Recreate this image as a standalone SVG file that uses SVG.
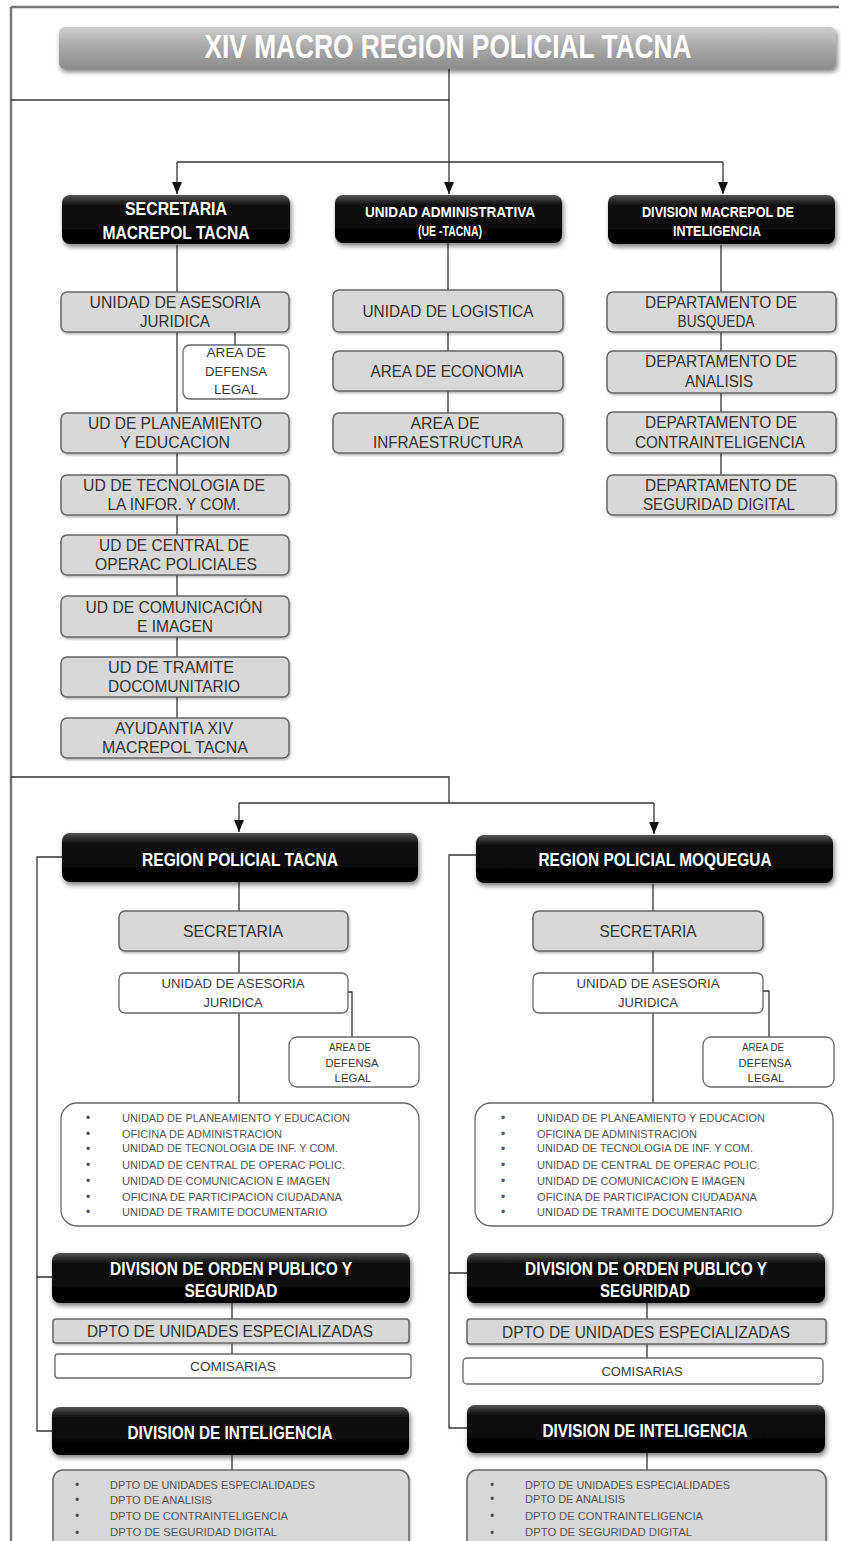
<svg xmlns="http://www.w3.org/2000/svg" width="841" height="1541" viewBox="0 0 841 1541">
<defs>
<linearGradient id="gTitle" x1="0" y1="0" x2="0" y2="1">
<stop offset="0" stop-color="#cfcfcf"/><stop offset="0.45" stop-color="#aaaaaa"/><stop offset="1" stop-color="#8c8c8c"/>
</linearGradient>
<linearGradient id="gBlack" x1="0" y1="0" x2="0" y2="1">
<stop offset="0" stop-color="#555"/><stop offset="0.2" stop-color="#111"/><stop offset="1" stop-color="#000"/>
</linearGradient>
<filter id="sh" x="-10%" y="-40%" width="120%" height="190%"><feDropShadow dx="1.5" dy="3" stdDeviation="2.5" flood-color="#000" flood-opacity="0.5"/></filter>
<filter id="sh2" x="-10%" y="-40%" width="120%" height="190%"><feDropShadow dx="1" dy="1.5" stdDeviation="1.2" flood-color="#000" flood-opacity="0.3"/></filter>
<marker id="arr" markerUnits="userSpaceOnUse" markerWidth="12" markerHeight="10" refX="12" refY="5" orient="auto"><path d="M0,0 L12,5 L0,10 z" fill="#111"/></marker>
<style>
.cn{fill:none;stroke:#333;stroke-width:1.3}
.fr{fill:none;stroke:#777;stroke-width:2.5}
.gb{fill:#d8d8d8;stroke:#666;stroke-width:1.5;filter:url(#sh2)}
.wb{fill:#fff;stroke:#666;stroke-width:1.3}
.bb{fill:url(#gBlack);filter:url(#sh)}
text{font-family:"Liberation Sans",Arial,sans-serif;text-anchor:middle}
.t{fill:#333;font-size:16.5px}
.s{fill:#3a3a3a;font-size:12.5px}
.xs{fill:#3a3a3a;font-size:10.5px}
.w{fill:#fff;font-weight:bold;font-size:19px}
.w2{fill:#fff;font-weight:bold;font-size:14.5px}
.li{fill:#555;font-size:10.5px;text-anchor:start}
.bu{fill:#555;font-size:12px}
</style>
</defs>

<g id="frame">
<path class="fr" d="M11 7 H839 M11 7 V1541"/>
</g>

<g id="connectors">
<path class="cn" d="M11 100 H449"/>
<path class="cn" d="M449 69 V194" marker-end="url(#arr)"/>
<path class="cn" d="M177 162 H723"/>
<path class="cn" d="M177 162 V194" marker-end="url(#arr)"/>
<path class="cn" d="M723 162 V194" marker-end="url(#arr)"/>
<path class="cn" d="M177 245 V720"/>
<path class="cn" d="M235 332 V345"/>
<path class="cn" d="M448 243 V414"/>
<path class="cn" d="M721 245 V476"/>
<path class="cn" d="M11 777 H449 V803"/>
<path class="cn" d="M239 803 H654"/>
<path class="cn" d="M239 803 V832" marker-end="url(#arr)"/>
<path class="cn" d="M654 803 V834" marker-end="url(#arr)"/>
<path class="cn" d="M239 882 V1104"/>
<path class="cn" d="M348 992 H352 V1037"/>
<path class="cn" d="M62 857 H37 V1431 H52 M37 1277 H52"/>
<path class="cn" d="M232 1303 V1354"/>
<path class="cn" d="M232 1455 V1470"/>
<path class="cn" d="M653 884 V1104"/>
<path class="cn" d="M763 991 H769 V1037"/>
<path class="cn" d="M476 855 H449 V1428 H467 M449 1273 H467"/>
<path class="cn" d="M647 1303 V1358"/>
<path class="cn" d="M647 1453 V1470"/>
</g>

<g id="title">
<rect x="59" y="27" width="777" height="42" rx="6" fill="url(#gTitle)" filter="url(#sh)"/>
<text x="448" y="58" fill="#fff" font-weight="bold" font-size="34" textLength="487" lengthAdjust="spacingAndGlyphs">XIV MACRO REGION POLICIAL TACNA</text>
</g>

<g id="secretaria-macrepol">
<rect class="bb" x="62" y="195" width="228" height="49" rx="8"/>
<text class="w" x="176" y="215" textLength="102" lengthAdjust="spacingAndGlyphs">SECRETARIA</text>
<text class="w" x="176" y="239" textLength="147" lengthAdjust="spacingAndGlyphs">MACREPOL TACNA</text>
</g>
<g id="unidad-administrativa">
<rect class="bb" x="335" y="195" width="227" height="48" rx="8"/>
<text class="w2" x="450" y="217" textLength="170" lengthAdjust="spacingAndGlyphs">UNIDAD ADMINISTRATIVA</text>
<text class="w2" x="450" y="236" textLength="64" lengthAdjust="spacingAndGlyphs">(UE -TACNA)</text>
</g>
<g id="division-macrepol">
<rect class="bb" x="608" y="195" width="227" height="49" rx="8"/>
<text class="w2" x="718" y="217" textLength="152" lengthAdjust="spacingAndGlyphs">DIVISION MACREPOL DE</text>
<text class="w2" x="717" y="236" textLength="88" lengthAdjust="spacingAndGlyphs">INTELIGENCIA</text>
</g>

<g id="asesoria-juridica">
<rect class="gb" x="61" y="292" width="228" height="40" rx="6"/>
<text class="t" x="175" y="308" textLength="171" lengthAdjust="spacingAndGlyphs">UNIDAD DE  ASESORIA</text>
<text class="t" x="175" y="327" textLength="70" lengthAdjust="spacingAndGlyphs">JURIDICA</text>
</g>
<g id="area-defensa-legal">
<rect class="wb" x="183" y="345" width="106" height="54" rx="7"/>
<text class="s" x="236" y="357" textLength="59" lengthAdjust="spacingAndGlyphs">AREA DE</text>
<text class="s" x="236" y="375.5" textLength="62" lengthAdjust="spacingAndGlyphs">DEFENSA</text>
<text class="s" x="236" y="394" textLength="44" lengthAdjust="spacingAndGlyphs">LEGAL</text>
</g>
<g id="ud-planeamiento">
<rect class="gb" x="61" y="413" width="228" height="40" rx="6"/>
<text class="t" x="175" y="429" textLength="174" lengthAdjust="spacingAndGlyphs">UD DE PLANEAMIENTO</text>
<text class="t" x="175" y="448" textLength="110" lengthAdjust="spacingAndGlyphs">Y EDUCACION</text>
</g>
<g id="ud-tecnologia">
<rect class="gb" x="61" y="475" width="228" height="40" rx="6"/>
<text class="t" x="174" y="491" textLength="182" lengthAdjust="spacingAndGlyphs">UD DE TECNOLOGIA DE</text>
<text class="t" x="174" y="510" textLength="133" lengthAdjust="spacingAndGlyphs">LA INFOR. Y COM.</text>
</g>
<g id="ud-central">
<rect class="gb" x="61" y="535" width="228" height="40" rx="6"/>
<text class="t" x="174" y="551" textLength="150" lengthAdjust="spacingAndGlyphs">UD DE CENTRAL DE</text>
<text class="t" x="176" y="570" textLength="162" lengthAdjust="spacingAndGlyphs">OPERAC POLICIALES</text>
</g>
<g id="ud-comunicacion">
<rect class="gb" x="61" y="596" width="228" height="41" rx="6"/>
<text class="t" x="174" y="612.5" textLength="177" lengthAdjust="spacingAndGlyphs">UD DE COMUNICACIÓN</text>
<text class="t" x="175" y="631.5" textLength="76" lengthAdjust="spacingAndGlyphs">E IMAGEN</text>
</g>
<g id="ud-tramite">
<rect class="gb" x="61" y="657" width="228" height="40" rx="6"/>
<text class="t" x="171" y="673" textLength="126" lengthAdjust="spacingAndGlyphs">UD DE TRAMITE</text>
<text class="t" x="174" y="692" textLength="132" lengthAdjust="spacingAndGlyphs">DOCOMUNITARIO</text>
</g>
<g id="ayudantia">
<rect class="gb" x="61" y="718" width="228" height="40" rx="6"/>
<text class="t" x="174" y="734" textLength="118" lengthAdjust="spacingAndGlyphs">AYUDANTIA XIV</text>
<text class="t" x="175" y="753" textLength="146" lengthAdjust="spacingAndGlyphs">MACREPOL TACNA</text>
</g>

<g id="unidad-logistica">
<rect class="gb" x="333" y="290" width="230" height="42" rx="6"/>
<text class="t" x="448" y="317" textLength="171" lengthAdjust="spacingAndGlyphs">UNIDAD DE LOGISTICA</text>
</g>
<g id="area-economia">
<rect class="gb" x="333" y="351" width="230" height="40" rx="6"/>
<text class="t" x="447" y="377" textLength="153" lengthAdjust="spacingAndGlyphs">AREA DE ECONOMIA</text>
</g>
<g id="area-infraestructura">
<rect class="gb" x="333" y="413" width="230" height="40" rx="6"/>
<text class="t" x="445" y="429" textLength="69" lengthAdjust="spacingAndGlyphs">AREA DE</text>
<text class="t" x="448" y="448" textLength="150" lengthAdjust="spacingAndGlyphs">INFRAESTRUCTURA</text>
</g>

<g id="dep-busqueda">
<rect class="gb" x="607" y="292" width="229" height="40" rx="6"/>
<text class="t" x="721" y="308" textLength="152" lengthAdjust="spacingAndGlyphs">DEPARTAMENTO DE</text>
<text class="t" x="716" y="327" textLength="77" lengthAdjust="spacingAndGlyphs">BUSQUEDA</text>
</g>
<g id="dep-analisis">
<rect class="gb" x="607" y="351" width="229" height="42" rx="6"/>
<text class="t" x="721" y="367" textLength="152" lengthAdjust="spacingAndGlyphs">DEPARTAMENTO DE</text>
<text class="t" x="719" y="387" textLength="68" lengthAdjust="spacingAndGlyphs">ANALISIS</text>
</g>
<g id="dep-contrainteligencia">
<rect class="gb" x="607" y="412" width="229" height="41" rx="6"/>
<text class="t" x="721" y="428" textLength="152" lengthAdjust="spacingAndGlyphs">DEPARTAMENTO DE</text>
<text class="t" x="720" y="447.5" textLength="170" lengthAdjust="spacingAndGlyphs">CONTRAINTELIGENCIA</text>
</g>
<g id="dep-seguridad-digital">
<rect class="gb" x="607" y="475" width="229" height="40" rx="6"/>
<text class="t" x="721" y="491" textLength="152" lengthAdjust="spacingAndGlyphs">DEPARTAMENTO DE</text>
<text class="t" x="719" y="510" textLength="152" lengthAdjust="spacingAndGlyphs">SEGURIDAD DIGITAL</text>
</g>

<g id="region-tacna">
<rect class="bb" x="62" y="833" width="356" height="49" rx="8"/>
<text class="w" x="240" y="866" textLength="196" lengthAdjust="spacingAndGlyphs">REGION POLICIAL TACNA</text>
</g>
<g id="tacna-secretaria">
<rect class="gb" x="119" y="911" width="229" height="40" rx="6"/>
<text class="t" x="233" y="937" font-size="17" textLength="100" lengthAdjust="spacingAndGlyphs">SECRETARIA</text>
</g>
<g id="tacna-asesoria">
<rect class="wb" x="119" y="973" width="229" height="40" rx="6"/>
<text class="s" x="233" y="987.5" textLength="143" lengthAdjust="spacingAndGlyphs">UNIDAD DE ASESORIA</text>
<text class="s" x="233" y="1006.5" textLength="59" lengthAdjust="spacingAndGlyphs">JURIDICA</text>
</g>
<g id="tacna-defensa">
<rect class="wb" x="289" y="1037" width="130" height="50" rx="8"/>
<text class="xs" x="350" y="1050.5" textLength="42" lengthAdjust="spacingAndGlyphs">AREA DE</text>
<text class="xs" x="352" y="1066.5" textLength="53" lengthAdjust="spacingAndGlyphs">DEFENSA</text>
<text class="xs" x="353" y="1082" textLength="37" lengthAdjust="spacingAndGlyphs">LEGAL</text>
</g>
<g id="tacna-unidades">
<rect class="wb" x="61" y="1103" width="358" height="123" rx="16"/>
<text class="bu" x="88" y="1122">•</text>
<text class="bu" x="88" y="1138">•</text>
<text class="bu" x="88" y="1152.5">•</text>
<text class="bu" x="88" y="1169">•</text>
<text class="bu" x="88" y="1185">•</text>
<text class="bu" x="88" y="1201">•</text>
<text class="bu" x="88" y="1216">•</text>
<text class="li" x="122" y="1121.5" textLength="228" lengthAdjust="spacingAndGlyphs">UNIDAD DE PLANEAMIENTO Y EDUCACION</text>
<text class="li" x="122" y="1137.5" textLength="160" lengthAdjust="spacingAndGlyphs">OFICINA DE ADMINISTRACION</text>
<text class="li" x="122" y="1152" textLength="216" lengthAdjust="spacingAndGlyphs">UNIDAD DE TECNOLOGIA DE INF. Y COM.</text>
<text class="li" x="122" y="1168.5" textLength="223" lengthAdjust="spacingAndGlyphs">UNIDAD DE CENTRAL DE OPERAC POLIC.</text>
<text class="li" x="122" y="1184.5" textLength="208" lengthAdjust="spacingAndGlyphs">UNIDAD DE COMUNICACION E IMAGEN</text>
<text class="li" x="122" y="1200.5" textLength="220" lengthAdjust="spacingAndGlyphs">OFICINA DE PARTICIPACION CIUDADANA</text>
<text class="li" x="122" y="1215.5" textLength="205" lengthAdjust="spacingAndGlyphs">UNIDAD DE TRAMITE DOCUMENTARIO</text>
</g>
<g id="tacna-orden-publico">
<rect class="bb" x="52" y="1253" width="358" height="50" rx="8"/>
<text class="w" x="231" y="1275" textLength="242" lengthAdjust="spacingAndGlyphs">DIVISION DE ORDEN PUBLICO Y</text>
<text class="w" x="231" y="1297" textLength="93" lengthAdjust="spacingAndGlyphs">SEGURIDAD</text>
</g>
<g id="tacna-dpto-unidades">
<rect class="gb" x="53" y="1319" width="356" height="24" rx="3"/>
<text class="t" x="230" y="1337" font-size="16" textLength="286" lengthAdjust="spacingAndGlyphs">DPTO DE UNIDADES ESPECIALIZADAS</text>
</g>
<g id="tacna-comisarias">
<rect class="wb" x="55" y="1354" width="356" height="24" rx="3"/>
<text class="s" x="233" y="1370.5" textLength="86" lengthAdjust="spacingAndGlyphs">COMISARIAS</text>
</g>
<g id="tacna-inteligencia">
<rect class="bb" x="52" y="1407" width="357" height="48" rx="8"/>
<text class="w" x="230" y="1439" textLength="205" lengthAdjust="spacingAndGlyphs">DIVISION DE INTELIGENCIA</text>
</g>
<g id="tacna-dptos-inteligencia">
<rect class="gb" x="53" y="1470" width="356" height="90" rx="10"/>
<text class="bu" x="77" y="1489">•</text>
<text class="bu" x="77" y="1504">•</text>
<text class="bu" x="77" y="1520">•</text>
<text class="bu" x="77" y="1536.5">•</text>
<text class="li" x="110" y="1488.5" textLength="205" lengthAdjust="spacingAndGlyphs">DPTO DE UNIDADES ESPECIALIDADES</text>
<text class="li" x="110" y="1503.5" textLength="102" lengthAdjust="spacingAndGlyphs">DPTO DE ANALISIS</text>
<text class="li" x="110" y="1519.5" textLength="178" lengthAdjust="spacingAndGlyphs">DPTO DE  CONTRAINTELIGENCIA</text>
<text class="li" x="110" y="1536" textLength="167" lengthAdjust="spacingAndGlyphs">DPTO DE  SEGURIDAD DIGITAL</text>
</g>

<g id="region-moquegua">
<rect class="bb" x="476" y="835" width="357" height="48" rx="8"/>
<text class="w" x="655" y="866" textLength="233" lengthAdjust="spacingAndGlyphs">REGION POLICIAL MOQUEGUA</text>
</g>
<g id="moquegua-secretaria">
<rect class="gb" x="533" y="911" width="230" height="40" rx="6"/>
<text class="t" x="648" y="937" font-size="17" textLength="97" lengthAdjust="spacingAndGlyphs">SECRETARIA</text>
</g>
<g id="moquegua-asesoria">
<rect class="wb" x="533" y="973" width="230" height="40" rx="6"/>
<text class="s" x="648" y="987.5" textLength="143" lengthAdjust="spacingAndGlyphs">UNIDAD DE ASESORIA</text>
<text class="s" x="648" y="1006.5" textLength="60" lengthAdjust="spacingAndGlyphs">JURIDICA</text>
</g>
<g id="moquegua-defensa">
<rect class="wb" x="703" y="1037" width="131" height="50" rx="8"/>
<text class="xs" x="763" y="1050.5" textLength="42" lengthAdjust="spacingAndGlyphs">AREA DE</text>
<text class="xs" x="765" y="1066.5" textLength="53" lengthAdjust="spacingAndGlyphs">DEFENSA</text>
<text class="xs" x="766" y="1082" textLength="37" lengthAdjust="spacingAndGlyphs">LEGAL</text>
</g>
<g id="moquegua-unidades">
<rect class="wb" x="475" y="1103" width="358" height="123" rx="16"/>
<text class="bu" x="503" y="1122">•</text>
<text class="bu" x="503" y="1138">•</text>
<text class="bu" x="503" y="1152.5">•</text>
<text class="bu" x="503" y="1169">•</text>
<text class="bu" x="503" y="1185">•</text>
<text class="bu" x="503" y="1201">•</text>
<text class="bu" x="503" y="1216">•</text>
<text class="li" x="537" y="1121.5" textLength="228" lengthAdjust="spacingAndGlyphs">UNIDAD DE PLANEAMIENTO Y EDUCACION</text>
<text class="li" x="537" y="1137.5" textLength="160" lengthAdjust="spacingAndGlyphs">OFICINA DE ADMINISTRACION</text>
<text class="li" x="537" y="1152" textLength="216" lengthAdjust="spacingAndGlyphs">UNIDAD DE TECNOLOGIA DE INF. Y COM.</text>
<text class="li" x="537" y="1168.5" textLength="223" lengthAdjust="spacingAndGlyphs">UNIDAD DE CENTRAL DE OPERAC POLIC.</text>
<text class="li" x="537" y="1184.5" textLength="208" lengthAdjust="spacingAndGlyphs">UNIDAD DE COMUNICACION E IMAGEN</text>
<text class="li" x="537" y="1200.5" textLength="220" lengthAdjust="spacingAndGlyphs">OFICINA DE PARTICIPACION CIUDADANA</text>
<text class="li" x="537" y="1215.5" textLength="205" lengthAdjust="spacingAndGlyphs">UNIDAD DE TRAMITE DOCUMENTARIO</text>
</g>
<g id="moquegua-orden-publico">
<rect class="bb" x="467" y="1253" width="358" height="50" rx="8"/>
<text class="w" x="646" y="1275" textLength="242" lengthAdjust="spacingAndGlyphs">DIVISION DE ORDEN PUBLICO Y</text>
<text class="w" x="645" y="1297" textLength="90" lengthAdjust="spacingAndGlyphs">SEGURIDAD</text>
</g>
<g id="moquegua-dpto-unidades">
<rect class="gb" x="467" y="1319" width="359" height="25" rx="3"/>
<text class="t" x="646" y="1337.5" font-size="16" textLength="288" lengthAdjust="spacingAndGlyphs">DPTO DE UNIDADES ESPECIALIZADAS</text>
</g>
<g id="moquegua-comisarias">
<rect class="wb" x="463" y="1358" width="360" height="26" rx="4"/>
<text class="s" x="642" y="1375.5" textLength="81" lengthAdjust="spacingAndGlyphs">COMISARIAS</text>
</g>
<g id="moquegua-inteligencia">
<rect class="bb" x="467" y="1405" width="358" height="48" rx="8"/>
<text class="w" x="645" y="1437" textLength="205" lengthAdjust="spacingAndGlyphs">DIVISION DE INTELIGENCIA</text>
</g>
<g id="moquegua-dptos-inteligencia">
<rect class="gb" x="467" y="1470" width="359" height="90" rx="10"/>
<text class="bu" x="492" y="1489">•</text>
<text class="bu" x="492" y="1503">•</text>
<text class="bu" x="492" y="1520">•</text>
<text class="bu" x="492" y="1536.5">•</text>
<text class="li" x="525" y="1488.5" textLength="205" lengthAdjust="spacingAndGlyphs">DPTO DE UNIDADES ESPECIALIDADES</text>
<text class="li" x="525" y="1502.5" textLength="100" lengthAdjust="spacingAndGlyphs">DPTO DE ANALISIS</text>
<text class="li" x="525" y="1519.5" textLength="178" lengthAdjust="spacingAndGlyphs">DPTO DE  CONTRAINTELIGENCIA</text>
<text class="li" x="525" y="1536" textLength="167" lengthAdjust="spacingAndGlyphs">DPTO DE  SEGURIDAD DIGITAL</text>
</g>
</svg>
